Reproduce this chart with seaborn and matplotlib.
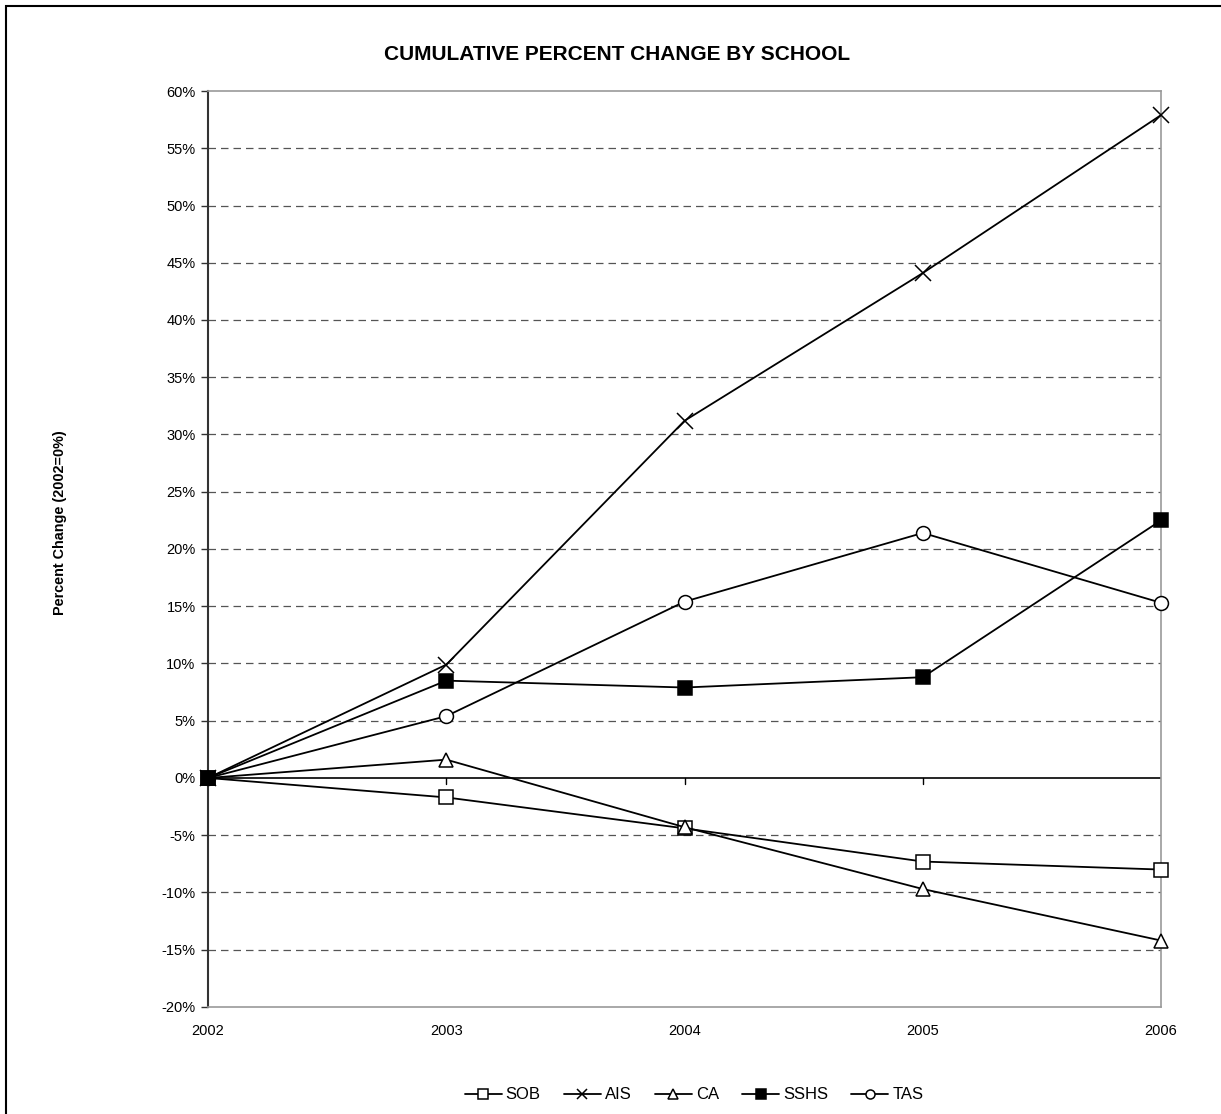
import pandas as pd
import matplotlib
matplotlib.use("Agg")
import matplotlib.pyplot as plt
import seaborn as sns
from matplotlib.ticker import FuncFormatter, FixedLocator

# Data (percent change, 2002 = 0%)
years = [2002, 2003, 2004, 2005, 2006]
sob = [0.0, -1.7, -4.4, -7.3, -8.0]
ais = [0.0, 9.9, 31.2, 44.1, 57.9]
ca = [0.0, 1.6, -4.3, -9.7, -14.2]
sshs = [0.0, 8.5, 7.9, 8.8, 22.5]
tas = [0.0, 5.4, 15.4, 21.4, 15.3]

schools = ["SOB", "AIS", "CA", "SSHS", "TAS"]
series = [sob, ais, ca, sshs, tas]

rows = []
for name, vals in zip(schools, series):
    for yr, v in zip(years, vals):
        rows.append({"Year": yr, "School": name, "Change": v})
df = pd.DataFrame(rows)

sns.set_style("white")
plt.rcParams["font.family"] = ["Liberation Sans", "DejaVu Sans"]
plt.rcParams["text.color"] = "black"
plt.rcParams["xtick.color"] = "black"
plt.rcParams["ytick.color"] = "black"

fig = plt.figure(figsize=(12.21, 11.14), dpi=100)
ax = fig.add_axes([0.1704, 0.0961, 0.7805, 0.8222])

# Grid lines
for yv in range(-15, 60, 5):
    if yv == 0:
        continue
    ax.axhline(yv, color="#555555", lw=0.9, ls=(0, (6, 4)), zorder=0)
ax.axhline(0, color="black", lw=1.2, zorder=1)

markers = {"SOB": "s", "AIS": "x", "CA": "^", "SSHS": "s", "TAS": "o"}
faces = {"SOB": "white", "AIS": "black", "CA": "white", "SSHS": "black", "TAS": "white"}
zorders = {"SOB": 3, "AIS": 3, "CA": 3, "SSHS": 5, "TAS": 3}

for name in schools:
    sub = df[df["School"] == name]
    sns.lineplot(data=sub, x="Year", y="Change", ax=ax, color="black", lw=1.3,
                 marker=markers[name], markersize=10 if name != "AIS" else 11,
                 markerfacecolor=faces[name], markeredgecolor="black",
                 markeredgewidth=1.1, label=name, zorder=zorders[name], clip_on=False)

ax.set_xlim(2002, 2006)
ax.set_ylim(-20, 60)
ax.yaxis.set_major_locator(FixedLocator(list(range(-20, 61, 5))))
ax.yaxis.set_major_formatter(FuncFormatter(lambda v, p: f"{int(v)}%"))
ax.set_xticks(years)
ax.set_xticklabels([str(y) for y in years])
ax.tick_params(axis="x", length=0, pad=12, labelsize=10.5)
ax.tick_params(axis="y", left=True, length=5, width=1, color="#333333", labelsize=10.5, pad=4)

# small ticks on the zero line
for yr in years[1:-1]:
    ax.plot([yr, yr], [0, -0.5], color="black", lw=1, zorder=1)

for s in ["top", "right", "bottom"]:
    ax.spines[s].set_color("#999999")
    ax.spines[s].set_linewidth(1.2)
ax.spines["left"].set_color("#333333")
ax.spines["left"].set_linewidth(1.5)

ax.set_xlabel("")
ax.set_ylabel("")
fig.text(0.049, 0.531, "Percent Change (2002=0%)", rotation=90, va="center", ha="center",
         fontsize=10.4, fontweight="bold")
fig.text(0.505, 0.951, "CUMULATIVE PERCENT CHANGE BY SCHOOL", ha="center", va="center",
         fontsize=15, fontweight="bold")

leg = ax.legend(loc="center", bbox_to_anchor=(0.51, -0.096), ncol=5, frameon=False,
                fontsize=12, handlelength=2.2, columnspacing=1.4, handletextpad=0.25,
                markerscale=0.65)

# outer frame (right and bottom edges fall outside the image)
fig.patches.append(plt.Rectangle((6 / 1221, -0.01), 1.05, 1 - 6 / 1114 + 0.01,
                                 transform=fig.transFigure, fill=False,
                                 edgecolor="black", lw=1.5))

fig.savefig("out.png", dpi=100)
